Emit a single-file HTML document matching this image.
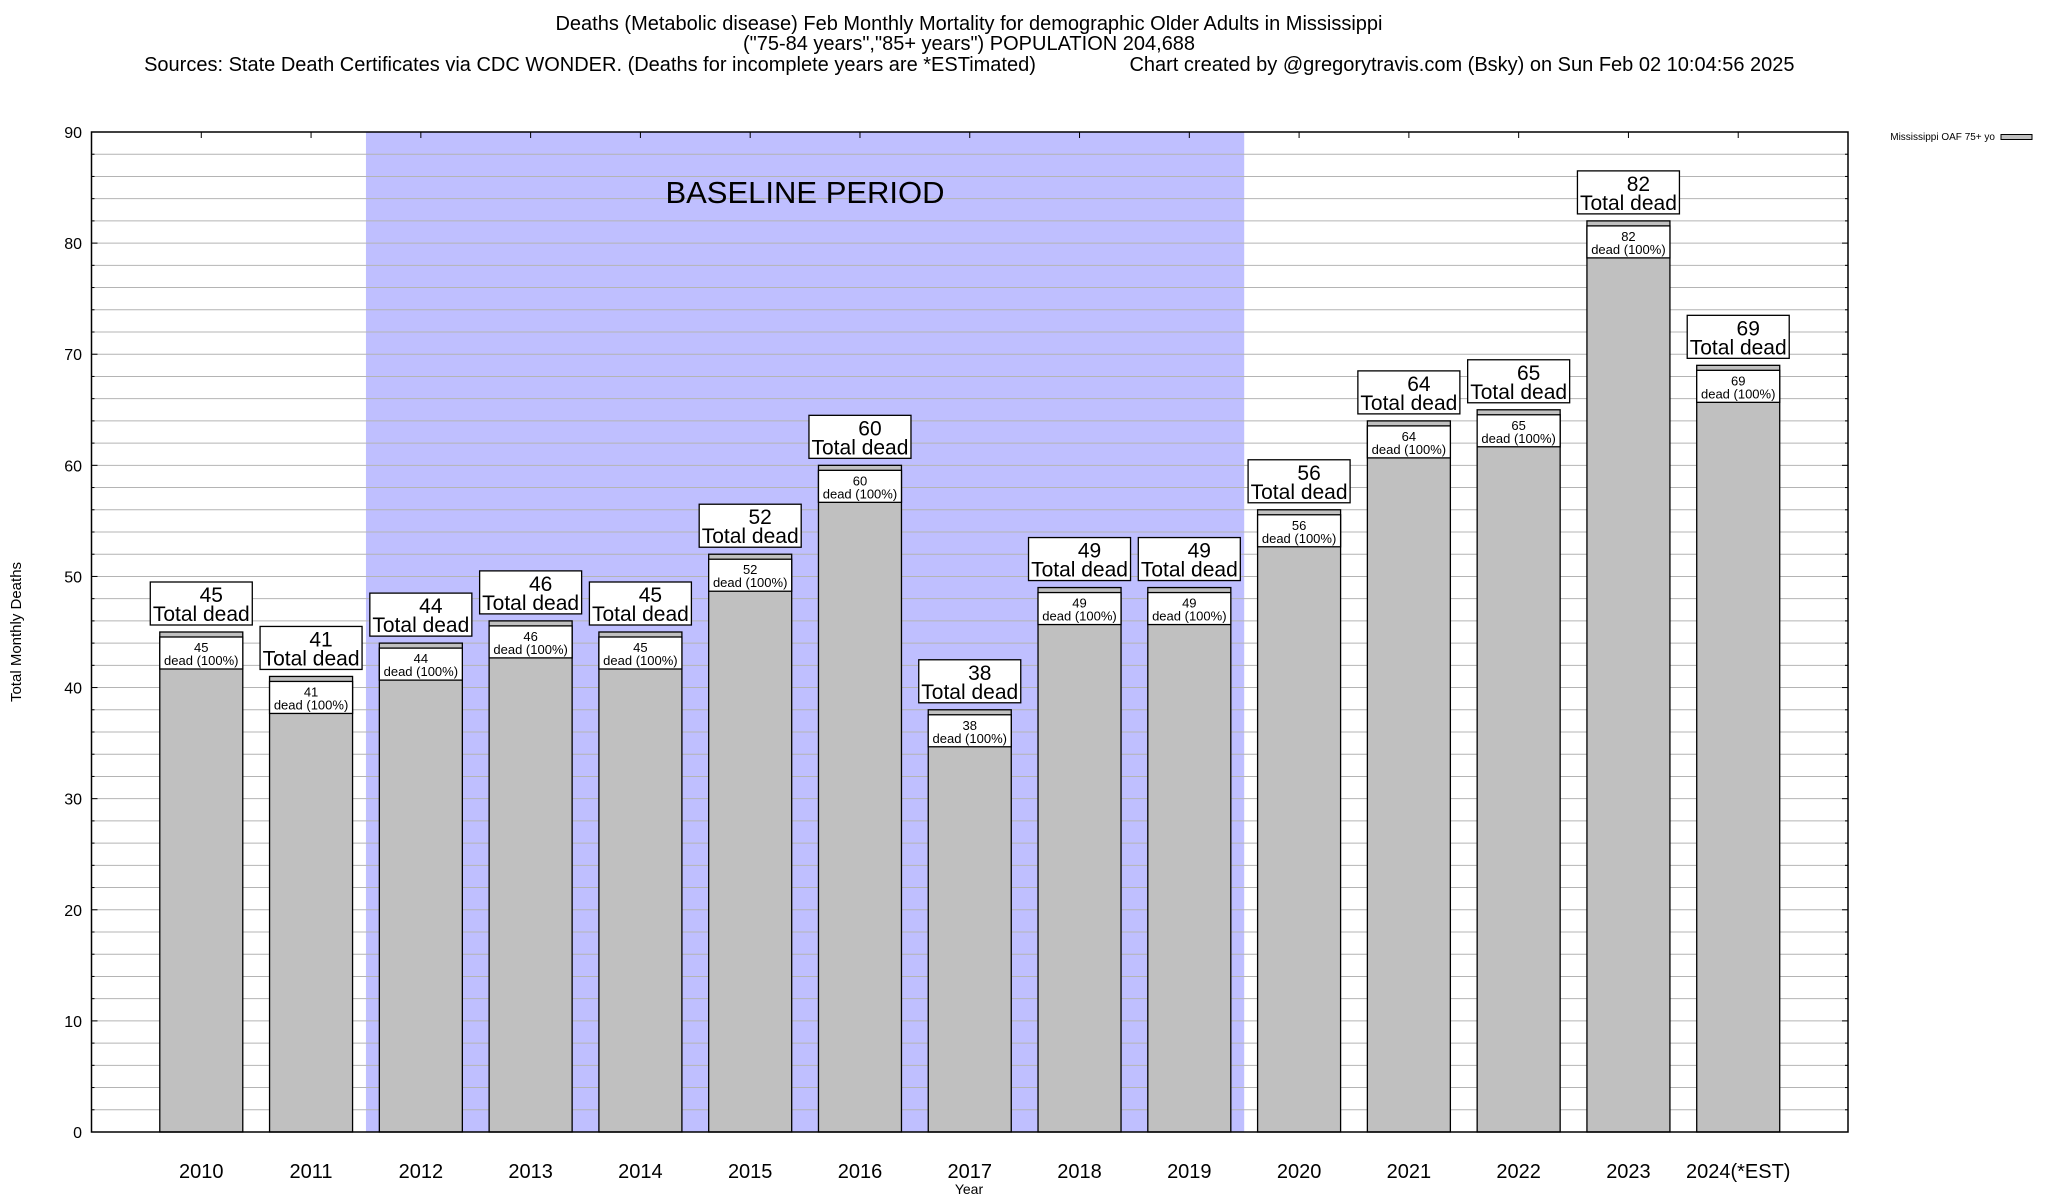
<!DOCTYPE html>
<html><head><meta charset="utf-8"><style>
html,body{margin:0;padding:0;background:#fff;}
svg{display:block;font-family:"Liberation Sans",sans-serif;}
</style></head><body>
<svg id="chart" width="2048" height="1200" viewBox="0 0 2048 1200" xmlns="http://www.w3.org/2000/svg">
<g font-size="20" text-anchor="middle">
<text x="969" y="30">Deaths (Metabolic disease) Feb Monthly Mortality for demographic Older Adults in Mississippi</text>
<text x="969" y="50">("75-84 years","85+ years") POPULATION 204,688</text>
<text x="590" y="71">Sources: State Death Certificates via CDC WONDER. (Deaths for incomplete years are *ESTimated)</text>
<text x="1462" y="71">Chart created by @gregorytravis.com (Bsky) on Sun Feb 02 10:04:56 2025</text>
</g>
<g id="plot"></g>
<text x="21" y="632" font-size="15" text-anchor="middle" transform="rotate(-90 21 632)">Total Monthly Deaths</text>
<text x="969" y="1194" font-size="14" text-anchor="middle">Year</text>
<g>
<text x="1995" y="140" font-size="10" text-anchor="end">Mississippi OAF 75+ yo</text>
<rect x="2001" y="134.5" width="31" height="5" fill="#c0c0c0" stroke="#000" stroke-width="1"/>
</g>
</svg>
<script>
const categories = ["2010","2011","2012","2013","2014","2015","2016","2017","2018","2019","2020","2021","2022","2023","2024(*EST)"];
const deaths = [45,41,44,46,45,52,60,38,49,49,56,64,65,82,69];
const yTicks = [0,10,20,30,40,50,60,70,80,90];
const baselineRange = [1.5, 9.5];

const NS = "http://www.w3.org/2000/svg";
const L = 91.5, R = 1848, T = 132, B = 1132;
const yMax = 90;
function y(v){ return B - (v / yMax) * (B - T); }
function x(i){ return L + (i + 1) * (R - L) / 16; }
const bw = 83;
const plot = document.getElementById('plot');
function mk(tag, attrs, parent){
  const e = document.createElementNS(NS, tag);
  for (const k in attrs) e.setAttribute(k, attrs[k]);
  (parent || plot).appendChild(e);
  return e;
}
const sh = mk('rect', {x: x(baselineRange[0]), y: T, width: x(baselineRange[1]) - x(baselineRange[0]), height: B - T, fill: '#bfbfff'});


for (let v = 2; v < yMax; v += 2) {
  const g = mk('line', {x1: L, x2: R, y1: y(v), y2: y(v), stroke: '#b4b4b4', 'stroke-width': 1});
  
  
  const tl = mk('line', {x1: L, x2: L + (v % 10 === 0 ? 6 : 3), y1: y(v), y2: y(v), stroke: '#000'});
  
  
  const tr = mk('line', {x1: R, x2: R - (v % 10 === 0 ? 6 : 3), y1: y(v), y2: y(v), stroke: '#000'});
  
  
}
const bl = mk('text', {x: 805, y: 203, 'font-size': 31, 'text-anchor': 'middle'});
bl.textContent = 'BASELINE PERIOD';


yTicks.forEach(v => {
  const t = mk('text', {x: 82, y: y(v) + 6, 'font-size': 16, 'text-anchor': 'end'});
  t.textContent = v;
  
  
});
categories.forEach((c, i) => {
  const cx = x(i), v = deaths[i], top = y(v);
  const tk = mk('line', {x1: cx, x2: cx, y1: T, y2: T + 6, stroke: '#000'});
  
  
  const bar = mk('rect', {x: cx - bw/2, y: top, width: bw, height: B - top, fill: '#c0c0c0', stroke: '#000', 'stroke-width': 1.3});
  
  
  const ib = mk('rect', {x: cx - bw/2, y: top + 5, width: bw, height: 32, fill: '#fff', stroke: '#000', 'stroke-width': 1.3});
  
  
  const t1 = mk('text', {x: cx, y: top + 20, 'font-size': 13, 'text-anchor': 'middle'});
  t1.textContent = v;
  
  
  const t2 = mk('text', {x: cx, y: top + 33, 'font-size': 13, 'text-anchor': 'middle'});
  t2.textContent = 'dead (100%)';
  
  
  const ob = mk('rect', {x: cx - 51, y: top - 50, width: 102, height: 43, fill: '#fff', stroke: '#000', 'stroke-width': 1.3});
  
  
  const o1 = mk('text', {x: cx + 10, y: top - 30, 'font-size': 21, 'text-anchor': 'middle'});
  o1.textContent = v;
  
  
  const o2 = mk('text', {x: cx, y: top - 11, 'font-size': 21, 'text-anchor': 'middle'});
  o2.textContent = 'Total dead';
  
  
  const xl = mk('text', {x: cx, y: 1178, 'font-size': 20, 'text-anchor': 'middle'});
  xl.textContent = c;
  
  
});
const frame = mk('rect', {x: L, y: T, width: R - L, height: B - T, fill: 'none', stroke: '#000', 'stroke-width': 1.5});


</script>
</body></html>
